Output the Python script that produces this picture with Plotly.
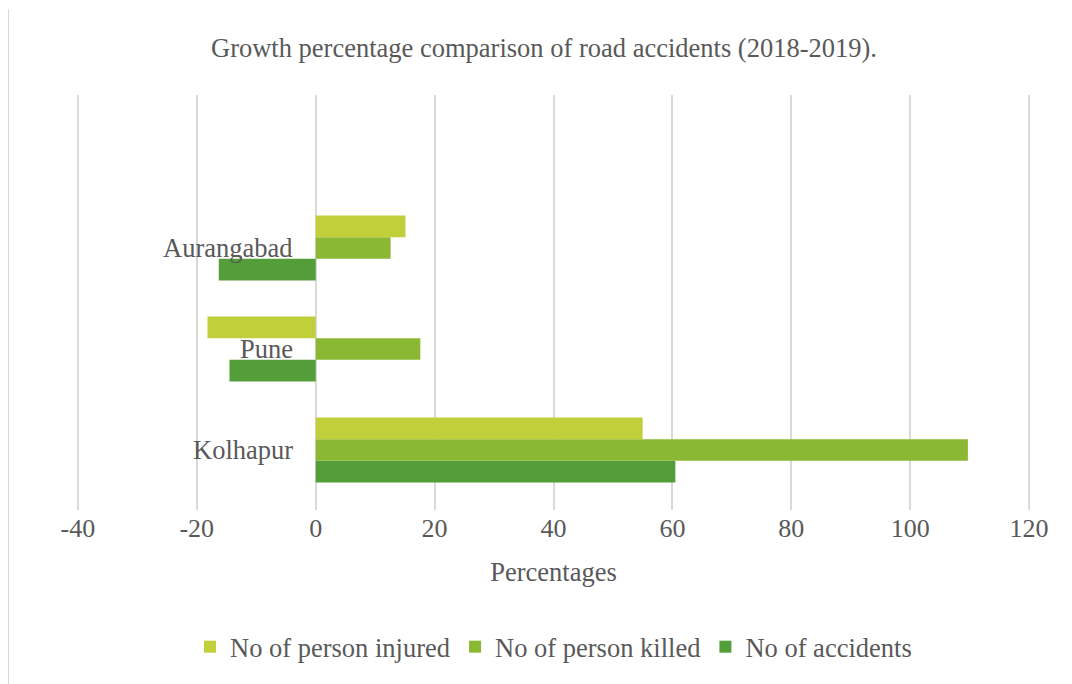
import plotly.graph_objects as go

cities = ["Kolhapur", "Pune", "Aurangabad"]
accidents = [60.5, -14.5, -16.3]
killed = [109.7, 17.6, 12.6]
injured = [55.0, -18.2, 15.1]
x_ticks = [-40, -20, 0, 20, 40, 60, 80, 100, 120]
x_tick_text = ["-40", "-20", "0", "20", "40", "60", "80", "100", "120"]

FONT = "Liberation Serif, Times New Roman, serif"
GREY = "#595959"
GRID = "#D9D9D9"

fig = go.Figure()
fig.add_trace(go.Bar(y=cities, x=accidents, orientation="h", name="No of accidents",
                     marker=dict(color="#549E39", line=dict(width=0))))
fig.add_trace(go.Bar(y=cities, x=killed, orientation="h", name="No of person killed",
                     marker=dict(color="#8AB833", line=dict(width=0))))
fig.add_trace(go.Bar(y=cities, x=injured, orientation="h", name="No of person injured",
                     marker=dict(color="#C0CF3A", line=dict(width=0))))

# category labels sit next to the zero line, like Excel does
for c in cities:
    fig.add_annotation(x=0, y=c, xref="x", yref="y", text=c, showarrow=False,
                       xanchor="right", xshift=-21, font=dict(family=FONT, size=26.5, color=GREY))

fig.update_layout(
    width=1072, height=684,
    margin=dict(l=69, r=50, t=87, b=182),
    paper_bgcolor="white", plot_bgcolor="white",
    barmode="group", bargap=0.355, bargroupgap=0,
    title=dict(text="Growth percentage comparison of road accidents (2018-2019).",
               x=0.5, xanchor="center", y=0.9415, yanchor="middle",
               font=dict(family=FONT, size=26.5, color=GREY)),
    font=dict(family=FONT, color=GREY),
    xaxis=dict(range=[-40.15, 120.15], tickvals=x_ticks, ticktext=x_tick_text, showgrid=True,
               gridcolor=GRID, gridwidth=2, zeroline=False, showline=False,
               tickfont=dict(family=FONT, size=26, color=GREY),
               title=dict(text="Percentages", font=dict(family=FONT, size=26.5, color=GREY),
                          standoff=20)),
    yaxis=dict(range=[-0.594, 3.515], showticklabels=False, showgrid=False,
               zeroline=False, showline=False, categoryorder="array", categoryarray=cities),
    legend=dict(orientation="h", x=0.5, xanchor="center", y=-0.33, yanchor="middle",
                traceorder="reversed", font=dict(family=FONT, size=26.5, color=GREY),
                itemwidth=30),
    showlegend=True,
)

# plotly drops gridlines on the plot edges; draw the outer two by hand
for xv in (x_ticks[0], x_ticks[-1]):
    fig.add_shape(type="line", xref="x", yref="paper", x0=xv, x1=xv, y0=0, y1=1,
                  layer="below", line=dict(color=GRID, width=2))

fig.add_shape(type="line", xref="paper", yref="paper", x0=-0.0724, x1=-0.0724,
              y0=1.207, y1=-0.44, line=dict(color=GRID, width=2))

fig.write_html("out.html")
